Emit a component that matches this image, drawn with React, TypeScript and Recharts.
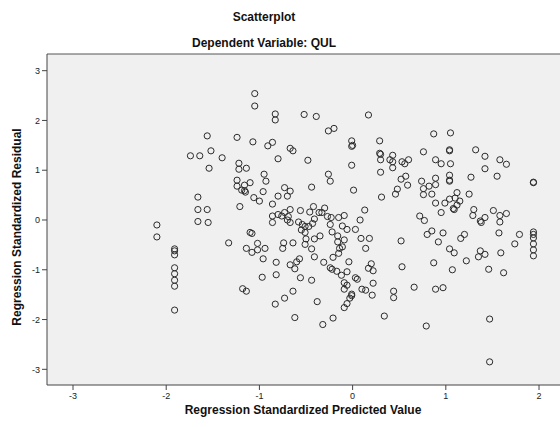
import React from 'react';
import { ScatterChart, Scatter, XAxis, YAxis, CartesianGrid, ReferenceLine } from 'recharts';

// Regression standardized predicted value (x) vs standardized residual (y)
const pointsLeft: [number, number][] = [
  [-1.05, 2.54], [-1.05, 2.29], [-0.83, 2.13], [-0.83, 2.01], [-1.56, 1.69], [-1.24, 1.66],
  [-1.07, 1.57], [-0.91, 1.49], [-0.86, 1.56], [-1.74, 1.29], [-1.64, 1.29], [-1.52, 1.39],
  [-1.40, 1.25], [-1.54, 1.04], [-1.22, 1.14], [-1.22, 1.02], [-1.14, 1.04], [-0.80, 1.23],
  [-0.95, 0.92], [-0.93, 0.78], [-1.24, 0.80], [-1.24, 0.68], [-1.16, 0.70], [-1.10, 0.75],
  [-1.19, 0.60], [-1.15, 0.56], [-1.16, 0.59], [-0.96, 0.57], [-1.06, 0.45], [-1.00, 0.38],
  [-0.86, 0.32], [-0.80, 0.48], [-1.66, 0.46], [-1.21, 0.27], [-1.66, 0.21], [-1.56, 0.21],
  [-1.66, -0.03], [-1.55, -0.05], [-2.10, -0.10], [-2.10, -0.34], [-1.91, -0.58], [-1.91, -0.62],
  [-1.91, -0.70], [-1.91, -0.96], [-1.91, -1.08], [-1.91, -1.21], [-1.91, -1.33], [-1.91, -1.81],
  [-1.33, -0.46], [-1.10, -0.25], [-1.08, -0.27], [-1.14, -0.57], [-1.08, -0.65], [-1.02, -0.47],
  [-1.02, -0.60], [-0.94, -0.57], [-0.96, -0.78], [-0.97, -1.15], [-1.18, -1.38], [-1.14, -1.43],
  [-0.86, 0.08], [-0.86, -0.05], [-0.80, 0.11], [-0.82, -0.85], [-0.82, -1.10], [-0.83, -1.69],
];

const pointsCenterUpper: [number, number][] = [
  [-0.52, 2.12], [-0.39, 2.08], [0.17, 2.11], [-0.26, 1.79], [-0.20, 1.84], [-0.01, 1.59],
  [-0.01, 1.48], [0.0, 1.50], [0.29, 1.59], [0.29, 1.34], [0.30, 1.32], [0.43, 1.30],
  [0.40, 1.21], [0.43, 1.17], [0.43, 1.05], [0.30, 1.21], [0.30, 0.96], [0.53, 1.17],
  [0.56, 1.13], [0.60, 1.21], [-0.67, 1.44], [-0.64, 1.39], [-0.48, 1.20], [-0.01, 1.10],
  [-0.26, 0.92], [-0.24, 0.78], [0.52, 0.82], [0.57, 0.88], [0.59, 0.70], [0.48, 0.62],
  [0.46, 0.52], [0.31, 0.46], [0.01, 0.60], [-0.73, 0.65], [-0.67, 0.58], [-0.70, 0.48],
  [-0.44, 0.66],
];

const pointsCenterLower: [number, number][] = [
  [-0.76, 0.08], [-0.73, 0.15], [-0.69, 0.07], [-0.67, 0.21], [-0.67, -0.05], [-0.70, 0.0],
  [-0.56, 0.19], [-0.58, -0.04], [-0.54, -0.09], [-0.51, -0.13], [-0.47, -0.13], [-0.43, -0.07],
  [-0.46, 0.16], [-0.42, 0.27], [-0.41, 0.02], [-0.36, 0.15], [-0.33, 0.15], [-0.30, 0.24],
  [-0.27, 0.07], [-0.23, 0.05], [-0.24, -0.09], [-0.22, -0.24], [-0.15, 0.05], [-0.09, 0.09],
  [0.08, 0.0], [0.13, 0.20], [-0.11, -0.12], [-0.06, -0.19], [0.03, -0.19], [-0.51, -0.25],
  [-0.55, -0.20], [-0.50, -0.38], [-0.41, -0.38], [-0.35, -0.32], [-0.16, -0.32], [-0.16, -0.44],
  [-0.09, -0.40], [-0.11, -0.54], [-0.14, -0.57], [-0.15, -0.67], [-0.21, -0.75], [-0.44, -0.58],
  [-0.41, -0.74], [-0.31, -0.85], [-0.51, -0.49], [-0.74, -0.46], [-0.75, -0.57], [-0.64, -0.46],
  [-0.67, -0.90], [-0.60, -0.84], [-0.57, -0.78], [-0.62, -0.98], [-0.56, -1.16], [-0.44, -1.21],
  [-0.24, -0.96], [-0.22, -0.99], [-0.17, -1.03], [-0.12, -1.11], [-0.06, -1.04], [-0.04, -0.84],
  [-0.09, -1.26], [-0.06, -1.31], [-0.09, -1.39], [-0.01, -1.49], [-0.01, -1.52], [-0.03, -1.57],
  [-0.06, -1.68], [-0.09, -1.76], [0.05, -1.19], [0.03, -1.16], [0.10, -1.39], [0.14, -1.41],
  [0.09, -0.37], [0.18, -0.37], [0.14, -0.57], [0.20, -0.88], [0.17, -0.97], [0.22, -1.02],
  [0.22, -1.27], [0.21, -1.51], [0.44, -1.43], [0.44, -1.56], [0.52, -0.42], [0.53, -0.94],
  [0.34, -1.93], [-0.21, -1.97], [-0.32, -2.10], [-0.62, -1.96], [-0.38, -1.64], [-0.64, -1.43],
  [-0.73, -1.57],
];

const pointsRightUpper: [number, number][] = [
  [0.87, 1.73], [1.05, 1.75], [0.76, 1.37], [1.04, 1.39], [1.04, 1.41], [1.32, 1.41],
  [1.42, 1.28], [1.58, 1.21], [1.65, 1.12], [1.42, 1.03], [1.55, 0.88], [1.27, 0.86],
  [0.89, 1.21], [0.95, 1.13], [1.05, 1.13], [1.04, 0.90], [1.04, 0.78], [1.04, 0.80],
  [0.89, 0.84], [0.89, 0.71], [0.74, 0.78], [0.76, 0.63], [0.82, 0.68], [0.76, 0.51],
  [0.85, 0.52], [0.89, 0.34], [0.95, 0.15], [0.99, 0.34], [1.04, 0.42], [1.12, 0.55],
  [1.10, 0.44], [1.15, 0.38], [1.12, 0.30], [1.08, 0.23], [1.09, 0.21], [1.25, 0.52],
  [1.30, 0.21], [1.29, 0.09], [1.37, -0.02], [1.38, -0.05], [1.42, 0.05], [1.51, 0.19],
  [1.58, 0.09], [1.65, 0.13], [1.58, -0.04], [1.94, 0.76], [1.94, 0.75], [0.72, 0.08],
  [0.77, -0.01],
];

const pointsRightLower: [number, number][] = [
  [0.80, -0.29], [0.85, -0.22], [0.97, -0.26], [0.92, -0.44], [1.16, -0.37], [1.20, -0.29],
  [1.04, -0.58], [1.09, -0.66], [1.22, -0.82], [1.37, -0.62], [1.35, -0.74], [1.42, -0.69],
  [1.57, -0.26], [1.59, -0.66], [1.74, -0.48], [1.79, -0.29], [1.46, -0.99], [1.62, -1.06],
  [1.07, -1.00], [0.87, -0.86], [0.66, -1.35], [0.89, -1.39], [0.97, -1.36], [0.79, -2.13],
  [1.47, -1.99], [1.47, -2.85], [1.94, -0.24], [1.94, -0.29], [1.94, -0.36], [1.94, -0.48],
  [1.94, -0.60], [1.94, -0.72],
];

const xTicks = [-3, -2, -1, 0, 1, 2];
const yTicks = [-3, -2, -1, 0, 1, 2, 3];
const xDomain: [number, number] = [-3.279, 2.225];
const yDomain: [number, number] = [-3.315, 3.335];

const titleText = 'Scatterplot';
const subtitleText = 'Dependent Variable: QUL';
const xLabelText = 'Regression Standardized Predicted Value';
const yLabelText = 'Regression Standardized Residual';

const data = [
  ...pointsLeft,
  ...pointsCenterUpper,
  ...pointsCenterLower,
  ...pointsRightUpper,
  ...pointsRightLower,
].map(([x, y]) => ({ x, y }));

const FONT = '"Liberation Sans", Arial, sans-serif';

const OpenCircle = (props: any) => {
  const { cx, cy } = props;
  if (cx == null || cy == null) return null;
  return <circle cx={cx} cy={cy} r={3.1} fill="none" stroke="#2b2b2b" strokeWidth={1} />;
};

export default function App() {
  return (
    <div
      style={{
        position: 'absolute',
        left: 0,
        top: 0,
        width: 560,
        height: 427,
        background: '#ffffff',
        overflow: 'hidden',
        fontFamily: FONT,
      }}
    >
      <ScatterChart width={560} height={427} margin={{ top: 54, right: 0, bottom: 12, left: 0 }}>
        <CartesianGrid fill="#f0f0f0" stroke="none" horizontal={false} vertical={false} />
        <XAxis
          type="number"
          dataKey="x"
          domain={xDomain}
          ticks={xTicks}
          interval={0}
          allowDataOverflow
          height={30}
          tickSize={5}
          tickMargin={3}
          tick={{ fontSize: 9, fill: '#222', fontFamily: FONT }}
          axisLine={{ stroke: '#444', strokeWidth: 1 }}
          tickLine={{ stroke: '#444' }}
        />
        <YAxis
          type="number"
          dataKey="y"
          domain={yDomain}
          ticks={yTicks}
          interval={0}
          allowDataOverflow
          width={47}
          tickSize={5}
          tickMargin={2}
          tick={{ fontSize: 9, fill: '#222', fontFamily: FONT }}
          axisLine={{ stroke: '#444', strokeWidth: 1 }}
          tickLine={{ stroke: '#444' }}
        />
        <ReferenceLine y={yDomain[1]} stroke="#555" strokeWidth={1} ifOverflow="extendDomain" />
        <Scatter data={data} shape={OpenCircle} isAnimationActive={false} />
      </ScatterChart>
      <svg
        width={560}
        height={427}
        style={{ position: 'absolute', left: 0, top: 0, pointerEvents: 'none' }}
      >
        <text x={264} y={21} textAnchor="middle" fontSize={12} fontWeight="bold" fill="#111" fontFamily={FONT}>
          {titleText}
        </text>
        <text x={264} y={47} textAnchor="middle" fontSize={12} fontWeight="bold" fill="#111" fontFamily={FONT}>
          {subtitleText}
        </text>
        <text x={303} y={414} textAnchor="middle" fontSize={12} fontWeight="bold" fill="#111" fontFamily={FONT}>
          {xLabelText}
        </text>
        <text
          x={0}
          y={0}
          transform="translate(21,227) rotate(-90)"
          textAnchor="middle"
          fontSize={12}
          fontWeight="bold"
          fill="#111"
          fontFamily={FONT}
        >
          {yLabelText}
        </text>
      </svg>
    </div>
  );
}
